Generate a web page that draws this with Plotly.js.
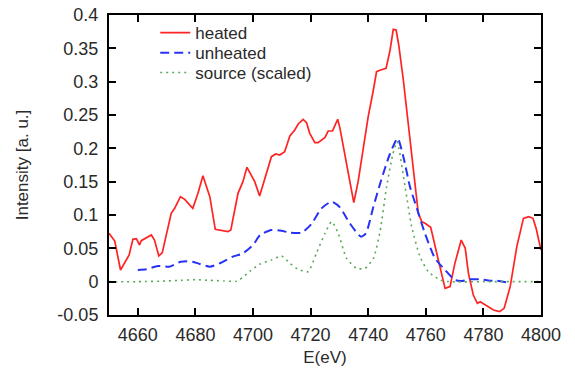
<!DOCTYPE html>
<html>
<head>
<meta charset="utf-8">
<script src="https://cdn.plot.ly/plotly-3.0.1.min.js"></script>
<style>html,body{margin:0;padding:0;background:#fff;}#chart{width:575px;height:371px;}</style>
</head>
<body>
<div id="chart"></div>
<script>
// heated
var heatedE = [4650, 4652, 4654, 4657, 4658.3, 4659.5, 4660.6, 4661.2, 4664.7, 4665.8, 4667.3, 4668.5, 4671.6, 4672.8, 4674.8, 4676.3, 4679.1, 4680.9, 4682.6, 4685, 4686.9, 4691.3, 4692.3, 4694.8, 4696.5, 4697.9, 4700.6, 4702.3, 4706.4, 4707.9, 4709.3, 4711, 4712.8, 4714.5, 4715.7, 4717.4, 4718.6, 4719.7, 4721.5, 4722.6, 4725, 4726.1, 4727.6, 4729.4, 4730.2, 4731.9, 4733.4, 4735, 4736.5, 4738.5, 4740, 4741.8, 4742.9, 4744.3, 4746.2, 4747.6, 4748.7, 4749.7, 4750.6, 4752.2, 4754.5, 4756.3, 4757.4, 4758.6, 4759.7, 4761.7, 4763.2, 4764.9, 4766.7, 4768.4, 4770.1, 4772.3, 4773.7, 4774.8, 4776.5, 4777.9, 4778.9, 4781.2, 4783.5, 4785.6, 4787.2, 4789.3, 4791.6, 4793.9, 4795.7, 4797.2, 4798.3, 4800];
var heatedI = [0.0725, 0.061, 0.0175, 0.04, 0.0635, 0.0645, 0.055, 0.0615, 0.07, 0.0625, 0.0385, 0.0435, 0.1025, 0.11, 0.1275, 0.1235, 0.11, 0.1325, 0.159, 0.1275, 0.0785, 0.075, 0.0775, 0.1325, 0.15, 0.1715, 0.15, 0.1285, 0.1875, 0.1915, 0.19, 0.195, 0.2185, 0.2275, 0.2365, 0.2435, 0.2385, 0.2225, 0.2085, 0.2085, 0.2165, 0.226, 0.226, 0.2435, 0.23, 0.19, 0.1575, 0.1185, 0.15, 0.2025, 0.2475, 0.2875, 0.315, 0.3175, 0.32, 0.3475, 0.3785, 0.3775, 0.355, 0.3025, 0.2125, 0.1425, 0.1025, 0.09, 0.0875, 0.0815, 0.0525, 0.0225, -0.010, -0.0075, 0.0275, 0.0625, 0.05, 0.0125, -0.02, -0.0325, -0.03, -0.0365, -0.0425, -0.045, -0.04, -0.0075, 0.0525, 0.095, 0.0975, 0.095, 0.08, 0.0475];
// unheated
var unheatedE = [4660, 4663, 4667, 4671, 4675, 4679, 4681.5, 4685, 4688.4, 4693, 4696.5, 4700, 4702.5, 4706.4, 4709.9, 4712.8, 4716.9, 4720.3, 4723.8, 4727.3, 4730.2, 4733.6, 4737.5, 4739.2, 4741.8, 4744.5, 4747.4, 4750.2, 4752.2, 4754.5, 4756.9, 4759.7, 4763.2, 4766.7, 4770.1, 4772.5, 4775.4, 4778.9, 4782.3, 4784.7, 4788.7];
var unheatedI = [0.0175, 0.0185, 0.0235, 0.0225, 0.03, 0.03, 0.0265, 0.0225, 0.0275, 0.0375, 0.0425, 0.055, 0.07, 0.0775, 0.0765, 0.0735, 0.0735, 0.0865, 0.11, 0.12, 0.1115, 0.0875, 0.0675, 0.0725, 0.1125, 0.152, 0.19, 0.215, 0.1875, 0.1425, 0.11, 0.0725, 0.035, 0.0175, 0.0025, 0.001, 0.0035, 0.0035, 0.0015, 0.0015, -0.0015];
// source (scaled)
var sourceE = [4650, 4660, 4670, 4675, 4680, 4685, 4690, 4694.2, 4695.4, 4698.9, 4702.3, 4706.4, 4709.9, 4712.8, 4715.7, 4719.1, 4722, 4725, 4727.3, 4729.6, 4732.5, 4736, 4738.9, 4741.8, 4744.1, 4746.4, 4748.5, 4750, 4752.8, 4755.1, 4758, 4760.9, 4765, 4768, 4780, 4790, 4800];
var sourceI = [0, 0, 0.001, 0.002, 0.003, 0.002, 0.001, 0.0005, 0.003, 0.0155, 0.026, 0.0325, 0.0385, 0.0275, 0.0185, 0.015, 0.0425, 0.0725, 0.09, 0.0725, 0.035, 0.02, 0.02, 0.035, 0.075, 0.1425, 0.19, 0.21, 0.1425, 0.0825, 0.0375, 0.015, 0.0025, 0, 0, 0, 0];

var seriesNames = ["heated", "unheated", "source (scaled)"];
var xTickVals = [4660, 4680, 4700, 4720, 4740, 4760, 4780, 4800];
var xTickText = ["4660", "4680", "4700", "4720", "4740", "4760", "4780", "4800"];
var yTickVals = [-0.05, 0, 0.05, 0.1, 0.15, 0.2, 0.25, 0.3, 0.35, 0.4];
var yTickText = ["-0.05", "0", "0.05", "0.1", "0.15", "0.2", "0.25", "0.3", "0.35", "0.4"];

var FONT = "Liberation Sans, Arial, sans-serif";
var TXT = "#2a2a2a";

var traces = [
  {x: heatedE, y: heatedI, name: seriesNames[0], type: "scatter", mode: "lines", legend: "legend",
   line: {color: "rgb(255,35,35)", width: 1.7}},
  {x: unheatedE, y: unheatedI, name: seriesNames[1], type: "scatter", mode: "lines", legend: "legend2",
   line: {color: "rgb(40,50,245)", width: 2, dash: "9px,5px", shape: "spline", smoothing: 0.6}},
  {x: sourceE, y: sourceI, name: seriesNames[2], type: "scatter", mode: "lines", legend: "legend3",
   line: {color: "rgb(90,170,90)", width: 1.6, dash: "2px,4px", shape: "spline", smoothing: 0.6}}
];

var axisCommon = {
  showline: true, linecolor: "#000", linewidth: 2, mirror: "ticks",
  ticks: "inside", ticklen: 7, tickwidth: 2, tickcolor: "#000",
  showgrid: false, zeroline: false,
  tickfont: {family: FONT, size: 18, color: TXT}
};

function legendAt(yPaper) {
  return {x: 0.107, y: yPaper, xanchor: "left", yanchor: "middle", bgcolor: "rgba(0,0,0,0)",
          font: {family: FONT, size: 17, color: TXT}};
}

var layout = {
  width: 575, height: 371,
  margin: {l: 109, r: 34, t: 15, b: 56},
  paper_bgcolor: "#fff", plot_bgcolor: "#fff",
  font: {family: FONT, size: 17, color: TXT},
  showlegend: true,
  legend: legendAt(0.94),
  legend2: legendAt(0.873),
  legend3: legendAt(0.807),
  xaxis: Object.assign({}, axisCommon, {
    range: [4650, 4800], tickmode: "array", tickvals: xTickVals, ticktext: xTickText,
    ticklabelstandoff: 2,
    title: {text: "E(eV)", font: {family: FONT, size: 17, color: TXT}, standoff: 8}
  }),
  yaxis: Object.assign({}, axisCommon, {
    range: [-0.05, 0.4], tickmode: "array", tickvals: yTickVals, ticktext: yTickText,
    ticklabelstandoff: 5,
    title: {text: "Intensity [a. u.]", font: {family: FONT, size: 17, color: TXT}, standoff: 24}
  })
};

Plotly.newPlot("chart", traces, layout, {displayModeBar: false, staticPlot: true});
</script>
</body>
</html>
